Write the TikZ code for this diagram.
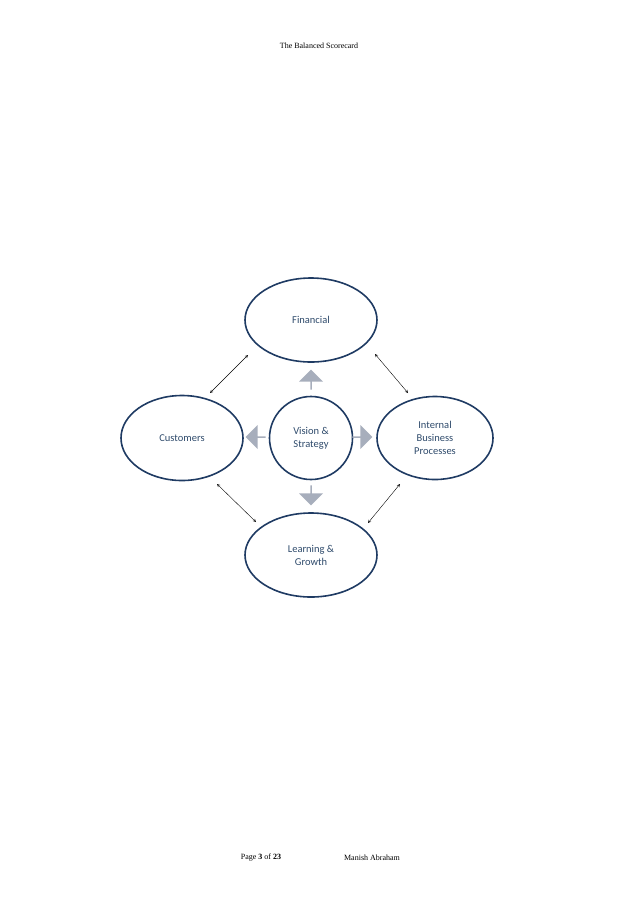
\documentclass[tikz,border=0pt]{standalone}
\usepackage{fontspec}
\setmainfont{Carlito}
\newfontfamily\serifhdr{Liberation Serif}
\usetikzlibrary{shapes.geometric,shapes.arrows}
\definecolor{elc}{HTML}{1F3B63}
\definecolor{txc}{HTML}{2E4A6B}
\definecolor{blk}{HTML}{A7AEBC}
\begin{document}
\begin{tikzpicture}[x=1pt,y=-1pt,
  ell/.style={ellipse,draw=elc,line width=1.6pt,text=txc,font=\fontsize{10.5}{13}\selectfont,align=center,inner sep=0pt},
  pagetext/.style={font=\serifhdr\fontsize{8}{10}\selectfont},
  blockarrow/.style={single arrow,fill=blk,draw=none,minimum height=20pt,minimum width=24pt,single arrow head extend=3pt,inner sep=0pt},
  dbl/.style={<->,>=stealth,thin}]
\useasboundingbox (0,0) rectangle (638,903);
\node[pagetext] (hdr) at (319,46) {The Balanced Scorecard};
\node[pagetext] (pg) at (261,858) {Page \textbf{3} of \textbf{23}};
\node[pagetext] (auth) at (372,858) {Manish Abraham};
\node[ell,minimum width=132pt,minimum height=84pt] (fin) at (311,320) {Financial};
\node[ell,minimum width=122pt,minimum height=85pt] (cust) at (182,438) {Customers};
\node[ell,minimum width=116pt,minimum height=83pt] (int) at (435,438) {Internal\\Business\\Processes};
\node[ell,minimum width=132pt,minimum height=84pt] (learn) at (311,555) {Learning \&\\Growth};
\node[ell,circle,minimum size=83pt] (vis) at (311,438) {Vision \&\\Strategy};
\node[blockarrow,rotate=90] (au) at (311,380) {};
\node[blockarrow,rotate=180] (al) at (256,437) {};
\node[blockarrow] (ar) at (362,437) {};
\node[blockarrow,rotate=-90] (ad) at (311,495) {};
\coordinate (c1) at (248,355); \coordinate (c2) at (210,393);
\coordinate (c3) at (375,354); \coordinate (c4) at (408,393);
\coordinate (c5) at (217,484); \coordinate (c6) at (256,522);
\coordinate (c7) at (400,484); \coordinate (c8) at (368,523);
\draw[dbl] (c1) -- (c2);
\draw[dbl] (c3) -- (c4);
\draw[dbl] (c5) -- (c6);
\draw[dbl] (c7) -- (c8);
\end{tikzpicture}
\end{document}
